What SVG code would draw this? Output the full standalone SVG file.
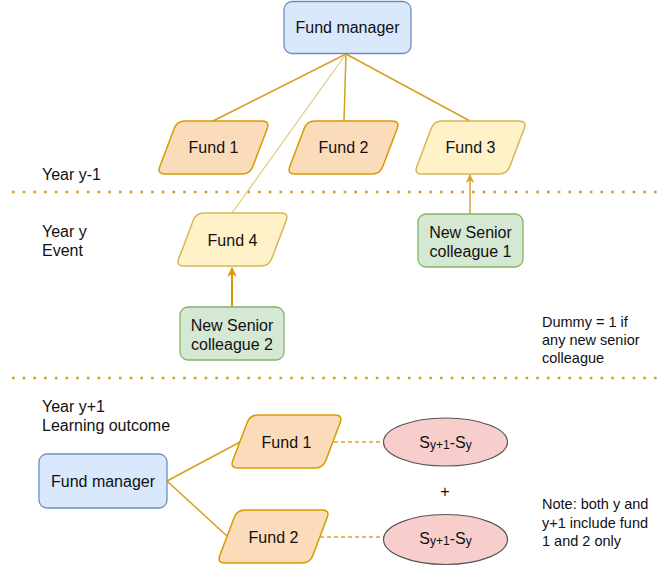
<svg xmlns="http://www.w3.org/2000/svg" width="662" height="569" viewBox="0 0 662 569">
<style>
text{font-family:"Liberation Sans",Arial,Helvetica,sans-serif;font-size:16px;fill:#111;}
.lbl{text-anchor:middle;}
.note{font-size:14.5px;}
.fm{fill:#dae8fc;stroke:#6c8ebf;stroke-width:1.3;}
.fo{fill:#fbdcba;stroke:#d79b00;stroke-width:1.5;}
.fy{fill:#fff1c8;stroke:#d6b656;stroke-width:1.5;}
.gr{fill:#d5e8d4;stroke:#82b366;stroke-width:1.3;}
.el{fill:#f8cecc;stroke:#555;stroke-width:1.2;}
.ln{stroke:#d4a020;stroke-width:1.5;fill:none;}
.thin{stroke:#e2c57a;stroke-width:1.1;fill:none;}
.dash{stroke:#d8a82a;stroke-width:1.4;stroke-dasharray:4 3;fill:none;}
.dot{stroke:#d4a020;stroke-width:2.6;stroke-dasharray:2.6 8.1;fill:none;}
</style>
<defs>
<path id="para" d="M28,0 L105,0 Q113,0 110.2,7.5 L95.8,45.5 Q93,53 85,53 L8,53 Q0,53 2.8,45.5 L17.2,7.5 Q20,0 28,0 Z"/>
<marker id="arr2" viewBox="0 0 10 10" refX="9" refY="5" markerWidth="10" markerHeight="10" orient="auto" markerUnits="userSpaceOnUse">
<path d="M0,0 L10,5 L0,10 L3,5 Z" fill="#d79b00"/>
</marker>
<marker id="arr3" viewBox="0 0 10 10" refX="9" refY="5" markerWidth="9" markerHeight="9" orient="auto" markerUnits="userSpaceOnUse">
<path d="M0,0 L10,5 L0,10 L3,5 Z" fill="#d6a530"/>
</marker>
</defs>

<g id="separators">
<line class="dot" x1="12" y1="192" x2="660" y2="192"/>
<line class="dot" x1="12" y1="378" x2="660" y2="378"/>
</g>

<g id="connectors">
<line class="ln" x1="346" y1="54" x2="213" y2="121"/>
<line class="ln" x1="346" y1="54" x2="344" y2="121"/>
<line class="ln" x1="346" y1="54" x2="470" y2="121"/>
<line class="thin" x1="346" y1="54" x2="232" y2="213"/>
<line x1="232" y1="307" x2="232" y2="268" stroke="#d79b00" stroke-width="2" marker-end="url(#arr2)"/>
<line x1="470" y1="214" x2="470" y2="175" stroke="#d6a530" stroke-width="1.5" marker-end="url(#arr3)"/>
<line class="ln" x1="167" y1="481" x2="240" y2="442"/>
<line class="ln" x1="167" y1="481" x2="227" y2="536"/>
<line class="dash" x1="334" y1="442" x2="384" y2="442"/>
<line class="dash" x1="320" y1="537" x2="384" y2="537"/>
</g>

<g id="fund-manager-top">
<rect class="fm" x="284" y="1.5" width="127" height="52" rx="8"/>
<text class="lbl" x="347.5" y="33">Fund manager</text>
</g>
<g id="fund1-top">
<use href="#para" class="fo" transform="translate(157,121)"/>
<text class="lbl" x="213.5" y="153">Fund 1</text>
</g>
<g id="fund2-top">
<use href="#para" class="fo" transform="translate(287,121)"/>
<text class="lbl" x="343.5" y="153">Fund 2</text>
</g>
<g id="fund3-top">
<use href="#para" class="fy" transform="translate(414,121)"/>
<text class="lbl" x="470.5" y="153">Fund 3</text>
</g>
<g id="fund4">
<use href="#para" class="fy" transform="translate(176,213)"/>
<text class="lbl" x="232.5" y="246">Fund 4</text>
</g>
<g id="new-senior-1">
<rect class="gr" x="418" y="214" width="105" height="53" rx="8"/>
<text class="lbl" x="470.5" y="237.5">New Senior</text>
<text class="lbl" x="470.5" y="256.5">colleague 1</text>
</g>
<g id="new-senior-2">
<rect class="gr" x="180" y="307" width="104" height="53" rx="8"/>
<text class="lbl" x="232" y="330.5">New Senior</text>
<text class="lbl" x="232" y="349.5">colleague 2</text>
</g>

<g id="labels">
<text x="42" y="180">Year y-1</text>
<text x="42" y="237">Year y</text>
<text x="42" y="256">Event</text>
<text x="42" y="412">Year y+1</text>
<text x="42" y="431">Learning outcome</text>
<text class="note" x="542" y="327">Dummy = 1 if</text>
<text class="note" x="542" y="345">any new senior</text>
<text class="note" x="542" y="363">colleague</text>
<text class="note" x="542" y="509">Note: both y and</text>
<text class="note" x="542" y="527.5">y+1 include fund</text>
<text class="note" x="542" y="546">1 and 2 only</text>
<text class="lbl" x="445" y="497">+</text>
</g>

<g id="fund-manager-bottom">
<rect class="fm" x="39" y="454" width="128" height="54" rx="8"/>
<text class="lbl" x="103" y="486.5">Fund manager</text>
</g>
<g id="fund1-bottom">
<use href="#para" class="fo" transform="translate(230,415)"/>
<text class="lbl" x="286.5" y="447.5">Fund 1</text>
</g>
<g id="fund2-bottom">
<use href="#para" class="fo" transform="translate(217,510)"/>
<text class="lbl" x="273.5" y="542.5">Fund 2</text>
</g>
<g id="diff1">
<ellipse class="el" cx="445.5" cy="442" rx="62" ry="24"/>
<text class="lbl" x="445.5" y="447.5">S<tspan font-size="12" dy="1">y+1</tspan><tspan dy="-1">-S</tspan><tspan font-size="12" dy="1">y</tspan></text>
</g>
<g id="diff2">
<ellipse class="el" cx="445.5" cy="539.5" rx="62" ry="25"/>
<text class="lbl" x="445.5" y="543.5">S<tspan font-size="12" dy="1">y+1</tspan><tspan dy="-1">-S</tspan><tspan font-size="12" dy="1">y</tspan></text>
</g>
</svg>
